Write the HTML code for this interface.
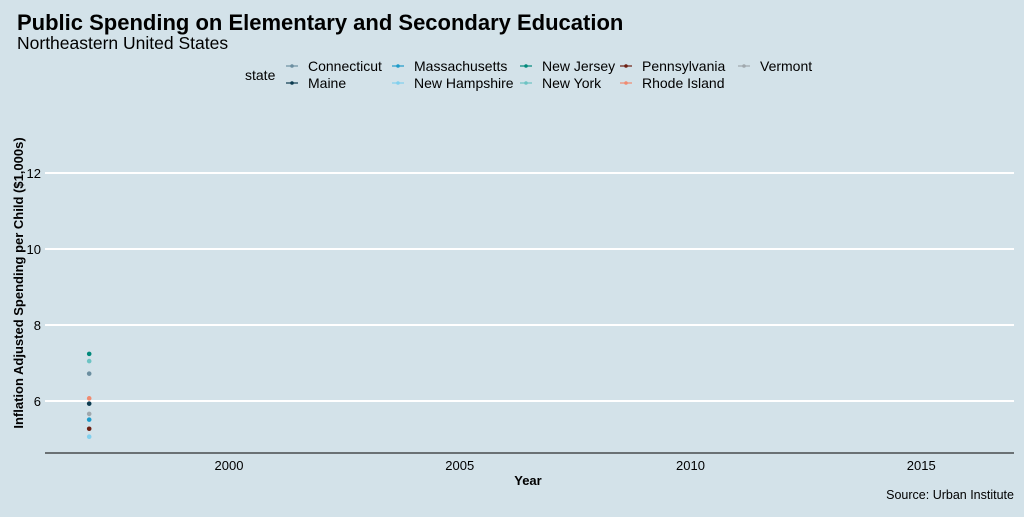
<!DOCTYPE html>
<html><head><meta charset="utf-8"><style>
body{margin:0;background:#d3e2e9;font-family:"Liberation Sans",sans-serif}
</style></head><body>
<svg id="c" width="1024" height="512" xmlns="http://www.w3.org/2000/svg">
<rect width="1024" height="512" fill="#d3e2e9"/>
<text x="17" y="30" font-size="22" font-weight="bold" fill="#000">Public Spending on Elementary and Secondary Education</text>
<text x="17" y="49" font-size="17.5" fill="#000">Northeastern United States</text>
<g id="legend"><text x="245" y="80" font-size="14">state</text></g>
<g id="grid"></g><g id="pts"></g>
<line x1="45" y1="453" x2="1014" y2="453" stroke="#000" stroke-width="1"/>
<text x="528" y="485" font-size="13" font-weight="bold" text-anchor="middle">Year</text>
<text transform="translate(23,283) rotate(-90)" font-size="13" font-weight="bold" text-anchor="middle">Inflation Adjusted Spending per Child ($1,000s)</text>
<text x="1014" y="499" font-size="12.5" text-anchor="end">Source: Urban Institute</text>
</svg>
<script>
const states=["Connecticut","Maine","Massachusetts","New Hampshire","New Jersey","New York","Pennsylvania","Rhode Island","Vermont"];
const colors=["#6b8ea0","#0b3a4f","#1d9bc9","#80d0ee","#00897b","#6cc3c3","#6d1f12","#f08a70","#a0a8ad"];
const years=[1997,1997,1997,1997,1997,1997,1997,1997,1997];
const spending=[6.72,5.93,5.51,5.06,7.24,7.05,5.27,6.07,5.66];
const xTicks=[2000,2005,2010,2015];
const yTicks=[6,8,10,12];
const NS="http://www.w3.org/2000/svg";
const xs=v=>229+(v-2000)*46.6;
const ys=v=>401-(v-6)*38;
function mk(t,a,p){const e=document.createElementNS(NS,t);for(const k in a)e.setAttribute(k,a[k]);p.appendChild(e);return e;}
const g=document.getElementById('grid');
yTicks.forEach(t=>{
 const l=mk('line',{x1:45,x2:1014,y1:ys(t),y2:ys(t),stroke:'#fff','stroke-width':2},g);
 
 
 const tx=mk('text',{x:41,y:ys(t)+5,'font-size':13,'text-anchor':'end'},g);tx.textContent=t;
 
 
});
xTicks.forEach(t=>{
 const tx=mk('text',{x:229+(t-2000)*46.15,y:470,'font-size':13,'text-anchor':'middle'},g);tx.textContent=t;
 
 
});
const p=document.getElementById('pts');
states.forEach((s,i)=>{
 const c=mk('circle',{cx:xs(years[i]),cy:ys(spending[i]),r:2.3,fill:colors[i]},p);
 
 
});
const lg=document.getElementById('legend');
const colX=[286,392,520,620,738];
states.forEach((s,i)=>{
 const col=Math.floor(i/2),row=i%2;
 const x=colX[col],y=66+row*17;
 const e=mk('g',{},lg);
 
 
 mk('line',{x1:x,x2:x+12,y1:y,y2:y,stroke:colors[i],'stroke-width':1.2},e);
 mk('circle',{cx:x+6,cy:y,r:1.8,fill:colors[i]},e);
 const t=mk('text',{x:x+22,y:y+5,'font-size':14},e);t.textContent=s;
});
</script>
</body></html>
